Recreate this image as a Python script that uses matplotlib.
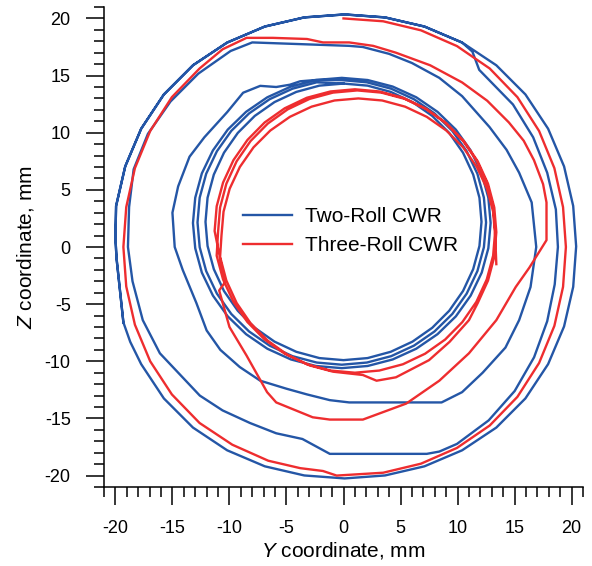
import matplotlib
matplotlib.use("Agg")
import matplotlib.pyplot as plt
from matplotlib.ticker import MultipleLocator

plt.rcParams['font.family'] = ['Liberation Sans', 'DejaVu Sans']
plt.rcParams['mathtext.fontset'] = 'custom'
plt.rcParams['mathtext.rm'] = 'Liberation Sans'
plt.rcParams['mathtext.it'] = 'Liberation Sans:italic'
plt.rcParams['axes.unicode_minus'] = False

# Two-Roll CWR path, (Y, Z) points in mm, traced loop by loop
two_outer = [(-19.3, -6.6), (-19.9, -1.0), (-20.0, 0.8), (-19.94, 3.59), (-19.14, 7.05), (-17.74, 10.35),
             (-15.75, 13.35), (-13.2, 15.9), (-10.2, 17.89), (-6.9, 19.29), (-3.44, 20.09), (0.1, 20.35),
             (3.64, 20.09), (7.1, 19.29), (10.4, 17.89), (13.4, 15.9), (15.95, 13.35), (17.94, 10.35),
             (19.34, 7.05), (20.14, 3.59), (20.4, 0.05), (20.14, -3.49), (19.34, -6.95), (17.94, -10.25),
             (15.95, -13.25), (13.4, -15.8), (10.4, -17.79), (7.1, -19.19), (3.64, -19.99), (0.1, -20.25),
             (-3.44, -19.99), (-6.9, -19.19), (-10.2, -17.79), (-13.2, -15.8), (-15.75, -13.25),
             (-17.74, -10.25), (-18.7, -8.3), (-19.3, -6.6)]

two_second = [(-19.9, -1.0), (-20.0, 0.8), (-19.94, 3.59), (-19.14, 7.05), (-17.74, 10.35), (-15.75, 13.35),
              (-13.2, 15.9), (-10.2, 17.89), (-6.9, 19.29), (-3.44, 20.09), (0.1, 20.35), (3.64, 20.09),
              (7.1, 19.29), (10.4, 17.89), (11.3, 17.1), (11.9, 15.5), (14.86, 12.47), (16.63, 9.6),
              (17.86, 6.5), (18.62, 3.29), (18.8, 0.0), (18.52, -3.27), (17.86, -6.5), (16.71, -9.65),
              (15.01, -12.6), (12.73, -15.17), (9.95, -17.23), (8.4, -17.9), (7.3, -18.1), (-1.2, -18.1),
              (-3.6, -16.8), (-5.9, -16.3), (-8.2, -15.4), (-10.6, -14.3), (-12.6, -13.0), (-14.3, -11.2),
              (-16.1, -9.3), (-17.6, -6.4), (-18.5, -3.0), (-18.9, 0.0), (-18.8, 3.5), (-18.4, 6.8),
              (-17.15, 9.9), (-15.17, 12.73), (-12.73, 15.17), (-9.9, 17.15), (-8.0, 17.9), (0.5, 17.6)]

two_third = [(1.7, 17.5), (4.0, 16.9), (6.0, 16.1), (8.4, 14.8), (10.4, 13.2), (12.8, 10.5), (14.3, 8.5),
             (15.4, 6.5), (16.5, 3.9), (16.9, 0.0), (16.4, -3.5), (15.4, -6.4), (14.2, -8.8), (12.2, -11.0),
             (10.4, -12.7), (8.6, -13.6), (0.5, -13.6), (-1.2, -13.4), (-3.2, -12.9), (-5.0, -12.4),
             (-7.3, -11.7), (-9.1, -10.5), (-10.8, -9.0), (-12.0, -7.3), (-12.9, -4.9), (-14.1, -2.0),
             (-14.8, 0.0), (-15.0, 3.0), (-14.5, 5.3), (-13.5, 7.9), (-12.2, 9.6), (-10.2, 11.8),
             (-8.8, 13.5), (-7.3, 14.1), (-5.9, 14.0), (-4.7, 14.2), (-3.8, 14.5)]

two_inner1 = [(-0.15, 14.8), (2.12, 14.61), (4.31, 14.04), (6.38, 13.1), (8.24, 11.83), (9.85, 10.27),
              (11.15, 8.45), (12.12, 6.44), (12.7, 4.31), (12.9, 2.1), (12.7, -0.11), (12.12, -2.24),
              (11.15, -4.25), (9.85, -6.07), (8.24, -7.63), (6.38, -8.9), (4.31, -9.84), (2.12, -10.41),
              (-0.15, -10.6), (-2.42, -10.41), (-4.61, -9.84), (-6.68, -8.9), (-8.54, -7.63), (-10.15, -6.07),
              (-11.45, -4.25), (-12.42, -2.24), (-13.0, -0.11), (-13.2, 2.1), (-13.0, 4.31), (-12.42, 6.44),
              (-11.45, 8.45), (-10.15, 10.27), (-8.54, 11.83), (-6.68, 13.1), (-4.61, 14.04), (-2.42, 14.61)]

two_inner2 = [(-0.15, 14.6), (2.05, 14.41), (4.18, 13.85), (6.18, 12.93), (7.98, 11.69), (9.54, 10.16),
              (10.8, 8.38), (11.74, 6.41), (12.31, 4.32), (12.5, 2.15), (12.31, -0.02), (11.74, -2.11),
              (10.8, -4.08), (9.54, -5.86), (7.98, -7.39), (6.18, -8.63), (4.18, -9.55), (2.05, -10.11),
              (-0.15, -10.3), (-2.35, -10.11), (-4.48, -9.55), (-6.48, -8.63), (-8.28, -7.39), (-9.84, -5.86),
              (-11.1, -4.08), (-12.04, -2.11), (-12.61, -0.02), (-12.8, 2.15), (-12.61, 4.32), (-12.04, 6.41),
              (-11.1, 8.38), (-9.84, 10.16), (-8.28, 11.69), (-6.48, 12.93), (-4.48, 13.85), (-2.35, 14.41)]

two_inner3 = [(0.0, 14.3), (2.11, 14.12), (4.14, 13.57), (6.05, 12.68), (7.78, 11.47), (9.27, 9.98),
              (10.48, 8.25), (11.37, 6.34), (11.92, 4.31), (12.1, 2.2), (11.92, 0.09), (11.37, -1.94),
              (10.48, -3.85), (9.27, -5.58), (7.78, -7.07), (6.05, -8.28), (4.14, -9.17), (2.11, -9.72),
              (0.0, -9.9), (-2.11, -9.72), (-4.14, -9.17), (-6.05, -8.28), (-7.78, -7.07), (-9.27, -5.58),
              (-10.48, -3.85), (-11.37, -1.94), (-11.92, 0.09), (-12.1, 2.2), (-11.92, 4.31), (-11.37, 6.34),
              (-10.48, 8.25), (-9.27, 9.98), (-7.78, 11.47), (-6.05, 12.68), (-4.14, 13.57), (-2.11, 14.12),
              (0.0, 14.3)]

# Three-Roll CWR path
three_outer = [(0.0, 20.0), (3.48, 19.75), (6.79, 18.96), (9.95, 17.58), (12.82, 15.62), (15.25, 13.11),
               (17.15, 10.15), (18.49, 6.9), (19.25, 3.49), (19.5, 0.0), (19.25, -3.49), (18.49, -6.9),
               (17.15, -10.15), (15.25, -13.11), (12.82, -15.62), (9.95, -17.58), (6.79, -18.96),
               (3.48, -19.75), (-0.6, -20.0), (-1.8, -19.6), (-3.8, -19.35), (-6.6, -18.7), (-9.75, -17.3),
               (-12.62, -15.4), (-15.05, -12.9), (-16.95, -10.0), (-18.29, -6.8), (-19.05, -3.45),
               (-19.3, 0.0), (-19.05, 3.49), (-18.29, 6.9), (-16.95, 10.15), (-15.05, 13.11),
               (-12.62, 15.62), (-10.6, 17.3), (-8.5, 18.3), (-6.2, 18.3), (-3.2, 18.2), (-1.8, 17.9),
               (0.5, 17.9), (2.6, 17.6), (4.6, 17.0), (7.6, 15.9), (10.4, 14.4), (12.6, 12.8), (14.5, 10.9),
               (15.8, 9.3), (16.7, 7.6), (17.5, 5.5), (17.8, 3.9), (17.8, 0.6), (16.3, -1.8), (15.1, -3.5),
               (13.4, -6.4), (11.0, -9.3), (8.4, -11.7), (5.5, -13.7), (1.7, -15.1), (-1.2, -15.1),
               (-2.7, -14.9), (-5.9, -13.6), (-6.7, -12.7), (-8.5, -9.5), (-10.0, -7.0), (-10.9, -3.8),
               (-10.4, -3.1)]

three_inner1 = [(-11.3, 1.4), (-11.12, 3.56), (-10.56, 5.64), (-9.65, 7.6), (-8.42, 9.37), (-6.91, 10.9),
                (-5.15, 12.14), (-3.21, 13.06), (-1.14, 13.61), (1.0, 13.8), (3.14, 13.61), (5.21, 13.06),
                (7.15, 12.14), (8.91, 10.9), (10.42, 9.37), (11.65, 7.6), (12.56, 5.64), (13.12, 3.56),
                (13.3, 1.4), (13.12, -0.76), (12.56, -2.84), (11.65, -4.8), (10.42, -6.57), (8.91, -8.1),
                (7.15, -9.34), (5.21, -10.26), (3.14, -10.81), (1.0, -11.0), (-1.14, -10.81), (-3.21, -10.26),
                (-5.15, -9.34), (-6.91, -8.1), (-8.42, -6.57), (-9.65, -4.8), (-10.56, -2.84), (-11.12, -0.76)]

three_inner2 = [(-11.0, 1.3), (-10.82, 3.46), (-10.27, 5.54), (-9.37, 7.5), (-8.15, 9.27), (-6.64, 10.8),
                (-4.9, 12.04), (-2.97, 12.96), (-0.92, 13.51), (1.2, 13.7), (3.32, 13.51), (5.37, 12.96),
                (7.3, 12.04), (9.04, 10.8), (10.55, 9.27), (11.77, 7.5), (12.67, 5.54), (13.22, 3.46),
                (13.4, 1.3), (13.22, -0.86), (12.67, -2.94), (11.77, -4.9), (11.0, -6.4), (9.3, -8.3),
                (7.5, -9.9), (4.6, -11.4), (2.9, -11.7), (1.7, -11.2), (-0.92, -10.91), (-2.97, -10.36),
                (-4.9, -9.44), (-6.64, -8.2), (-8.15, -6.67), (-9.37, -4.9), (-10.27, -2.94), (-10.82, -0.86)]

three_inner3 = [(-10.7, 1.0), (-10.52, 3.09), (-9.98, 5.1), (-9.09, 7.0), (-7.89, 8.72), (-6.42, 10.19),
                (-4.7, 11.39), (-2.8, 12.28), (-0.79, 12.82), (1.3, 13.0), (3.39, 12.82), (5.4, 12.28),
                (7.3, 11.39), (9.02, 10.19), (10.49, 8.72), (11.69, 7.0), (12.58, 5.1), (13.12, 3.09),
                (13.3, 1.0), (13.4, -1.5)]

two_roll = two_outer + two_second + two_third + two_inner1 + two_inner2 + two_inner3
three_roll = three_outer + three_inner1 + three_inner2 + three_inner3
two_y, two_z = zip(*two_roll)
three_y, three_z = zip(*three_roll)

blue = '#2456a6'
red = '#ee2d2f'

fig = plt.figure(figsize=(5.92, 5.66), dpi=100)
ax = fig.add_axes([104 / 592, 79 / 566, 479 / 592, 480 / 566])

ax.plot(two_y, two_z, color=blue, lw=1.7, label='Two-Roll CWR')
ax.plot(three_y, three_z, color=red, lw=1.7, label='Three-Roll CWR')

ax.set_xlim(-21, 21)
ax.set_ylim(-21, 21)
ax.spines['top'].set_visible(False)
ax.spines['right'].set_visible(False)
for s in ('left', 'bottom'):
    ax.spines[s].set_linewidth(1.1)

ax.xaxis.set_major_locator(MultipleLocator(5))
ax.xaxis.set_minor_locator(MultipleLocator(1))
ax.yaxis.set_major_locator(MultipleLocator(5))
ax.yaxis.set_minor_locator(MultipleLocator(1))
ax.tick_params(which='major', direction='out', length=13, width=1.1, labelsize=13, pad=11)
ax.tick_params(which='minor', direction='out', length=7, width=1.1)

ax.set_xlabel('$\\mathit{Y}$ coordinate, mm', fontsize=15, labelpad=2)
ax.set_ylabel('$\\mathit{Z}$ coordinate, mm', fontsize=15, labelpad=6)

ax.legend(loc='center left', bbox_to_anchor=(0.290, 0.533), frameon=False, fontsize=15,
          handlelength=2.35, handletextpad=0.62, labelspacing=0.5, borderpad=0, borderaxespad=0)

fig.savefig('out.png', dpi=100)
